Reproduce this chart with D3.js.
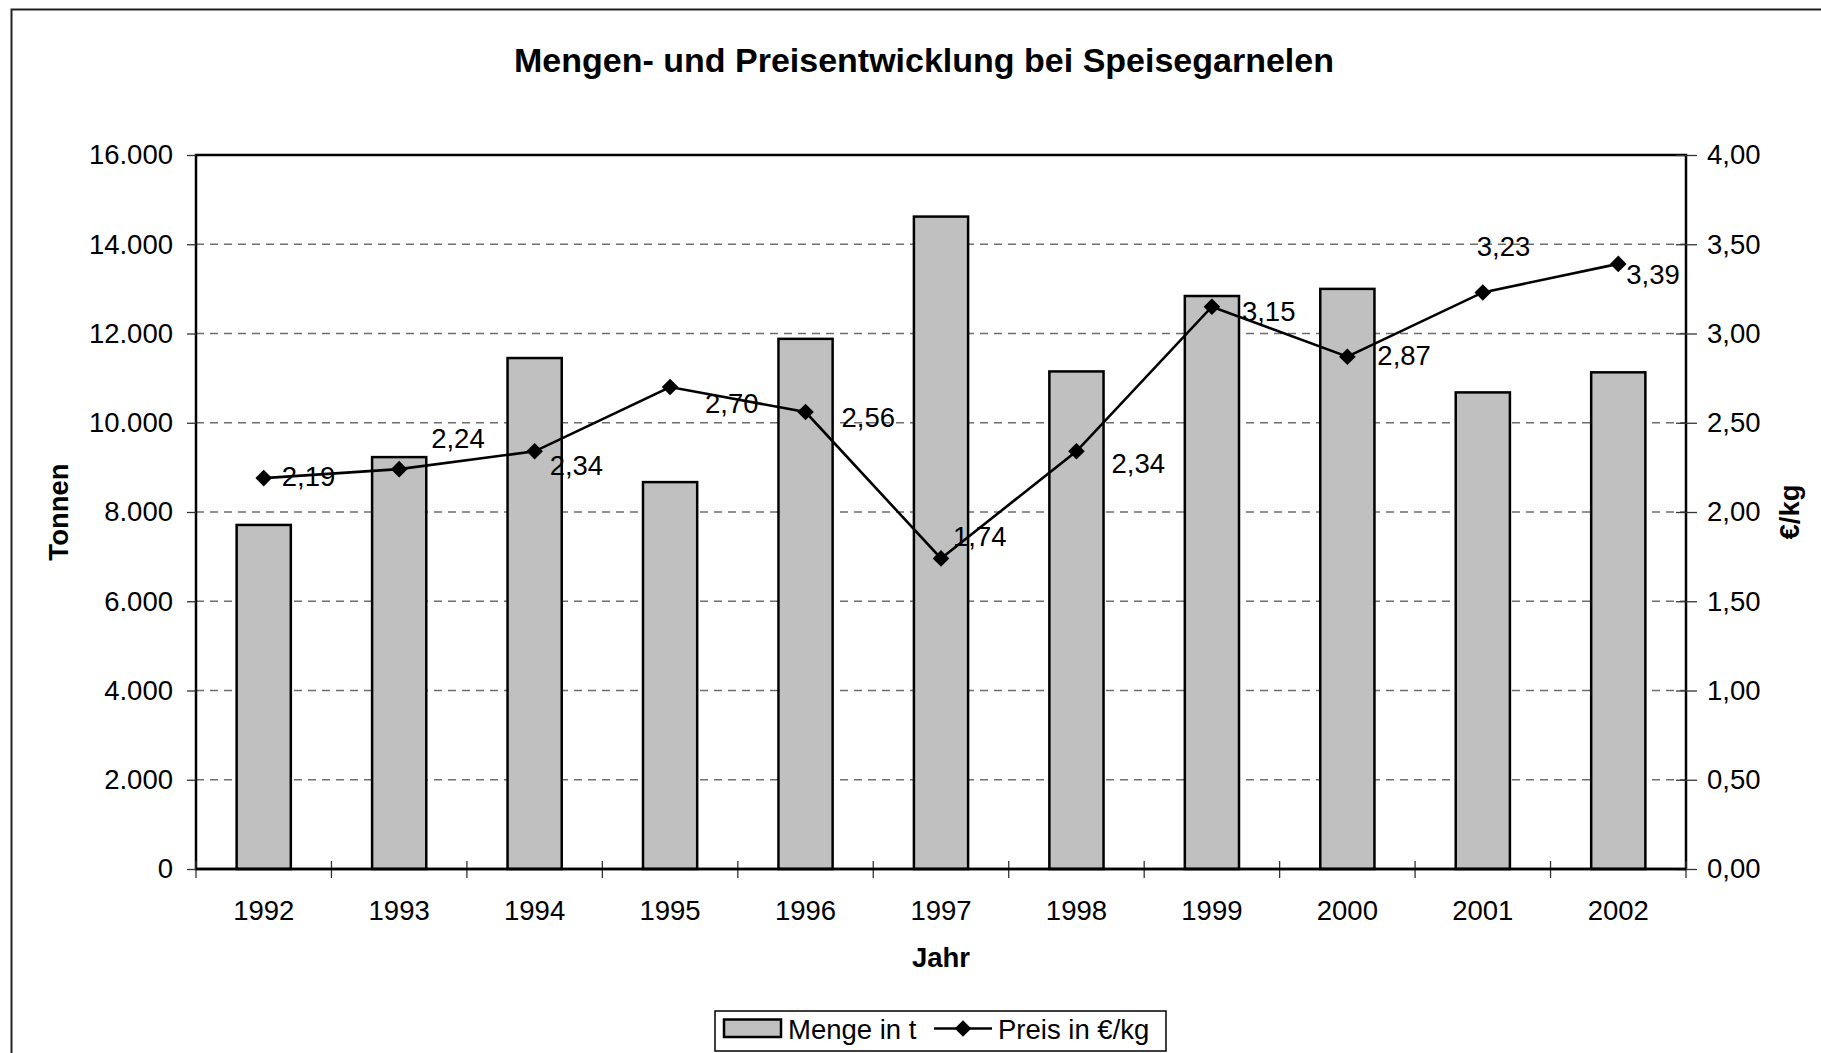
<!DOCTYPE html>
<html>
<head>
<meta charset="utf-8">
<script src="https://cdn.jsdelivr.net/npm/d3@7/dist/d3.min.js"></script>
<style>
  html, body { margin: 0; padding: 0; background: #fff; }
  svg { display: block; font-family: "Liberation Sans", Arial, sans-serif; }
</style>
</head>
<body>
<svg id="chart" width="1821" height="1053"></svg>
<script>
// ---- data ----
const years = ["1992","1993","1994","1995","1996","1997","1998","1999","2000","2001","2002"];
const menge = [7710, 9230, 11450, 8670, 11880, 14620, 11150, 12840, 13000, 10680, 11130];
const preis = [2.19, 2.24, 2.34, 2.70, 2.56, 1.74, 2.34, 3.15, 2.87, 3.23, 3.39];
const leftTicks = [0, 2000, 4000, 6000, 8000, 10000, 12000, 14000, 16000];
const rightTicks = [0, 0.5, 1.0, 1.5, 2.0, 2.5, 3.0, 3.5, 4.0];
const titleText = "Mengen- und Preisentwicklung bei Speisegarnelen";
const xTitle = "Jahr", yLeftTitle = "Tonnen", yRightTitle = "€/kg";
const seriesNames = ["Menge in t", "Preis in €/kg"];
// label placement offsets (styling, relative to each point)
const labelOffsets = [[18,8],[32,-21.5],[15,24],[35,26],[36,15],[12,-12],[35,22],[30,14],[30,8],[-6,-36],[8,20]];

const de = d3.formatLocale({decimal: ",", thousands: ".", grouping: [3], currency: ["", "€"]});
const fmtT = de.format(",.0f");
const fmtP = de.format(".2f");

const svg = d3.select("#chart");
const L = 196, R = 1686, T = 155, B = 869;
const FS = 27.5;

// outer frame (partially visible)
svg.append("path").attr("d", `M11.5,1053 L11.5,9.5 L1821,9.5`)
  .attr("fill", "none").attr("stroke", "#222").attr("stroke-width", 2);

const x = d3.scaleBand().domain(years).range([L, R]).paddingInner(0).paddingOuter(0);
const yL = d3.scaleLinear().domain([0, 16000]).range([B, T]);
const yR = d3.scaleLinear().domain([0, 4]).range([B, T]);

// gridlines
svg.append("g").selectAll("line").data(leftTicks.filter(d => d > 0 && d < 16000)).join("line")
  .attr("x1", L).attr("x2", R).attr("y1", d => yL(d)).attr("y2", d => yL(d))
  .attr("stroke", "#6e6e6e").attr("stroke-width", 1.3).attr("stroke-dasharray", "8,6");

// bars
const bw = x.bandwidth() * 0.4;
svg.append("g").selectAll("rect").data(menge).join("rect")
  .attr("x", (d, i) => x(years[i]) + x.bandwidth() / 2 - bw / 2)
  .attr("width", bw)
  .attr("y", d => yL(d))
  .attr("height", d => B - yL(d))
  .attr("fill", "#c0c0c0").attr("stroke", "#000").attr("stroke-width", 2.5);

// plot frame
svg.append("rect").attr("x", L).attr("y", T).attr("width", R - L).attr("height", B - T)
  .attr("fill", "none").attr("stroke", "#000").attr("stroke-width", 2.5);

// left axis
const axL = d3.axisLeft(yL).tickValues(leftTicks).tickSize(9).tickPadding(14).tickFormat(fmtT);
const gL = svg.append("g").attr("transform", `translate(${L},0)`).call(axL);
gL.select(".domain").remove();
gL.selectAll("line").attr("stroke", "#333").attr("stroke-width", 1.3);
gL.selectAll("text").attr("font-size", FS).attr("fill", "#000").attr("font-family", "Liberation Sans, Arial, sans-serif");

// right axis (ticks crossing)
const axR = d3.axisRight(yR).tickValues(rightTicks).tickSize(11).tickPadding(10).tickFormat(fmtP);
const gR = svg.append("g").attr("transform", `translate(${R},0)`).call(axR);
gR.select(".domain").remove();
gR.selectAll("line").attr("x1", -10).attr("stroke", "#333").attr("stroke-width", 1.3);
gR.selectAll("text").attr("font-size", FS).attr("fill", "#000").attr("font-family", "Liberation Sans, Arial, sans-serif");

// bottom axis: ticks at band boundaries, crossing
const boundaries = years.map(y => x(y)).concat([R]);
svg.append("g").selectAll("line").data(boundaries).join("line")
  .attr("x1", d => d).attr("x2", d => d).attr("y1", B - 8).attr("y2", B + 9)
  .attr("stroke", "#333").attr("stroke-width", 1.3);
svg.append("g").selectAll("text").data(years).join("text")
  .attr("x", d => x(d) + x.bandwidth() / 2).attr("y", 919.5)
  .attr("text-anchor", "middle").attr("font-size", FS).text(d => d);

// redraw bottom axis line on top
svg.append("line").attr("x1", L).attr("x2", R).attr("y1", B).attr("y2", B)
  .attr("stroke", "#000").attr("stroke-width", 2.5);

// price line
const cx = (d, i) => x(years[i]) + x.bandwidth() / 2;
const line = d3.line().x((d, i) => cx(d, i)).y(d => yR(d));
svg.append("path").datum(preis).attr("d", line)
  .attr("fill", "none").attr("stroke", "#000").attr("stroke-width", 2.6);
const diamond = "M0,-8.3L8.3,0L0,8.3L-8.3,0Z";
svg.append("g").selectAll("path").data(preis).join("path")
  .attr("d", diamond)
  .attr("transform", (d, i) => `translate(${cx(d, i)},${yR(d)})`)
  .attr("fill", "#000");

// data labels
svg.append("g").selectAll("text").data(preis).join("text")
  .attr("x", (d, i) => cx(d, i) + labelOffsets[i][0])
  .attr("y", (d, i) => yR(d) + labelOffsets[i][1])
  .attr("font-size", FS).attr("fill", "#000").text(d => fmtP(d));

// title
svg.append("text").attr("x", 924).attr("y", 72).attr("text-anchor", "middle")
  .attr("font-size", 34).attr("font-weight", "bold").text(titleText);

// axis titles
svg.append("text").attr("transform", `translate(68,${(T + B) / 2}) rotate(-90)`)
  .attr("text-anchor", "middle").attr("font-size", FS).attr("font-weight", "bold").text(yLeftTitle);
svg.append("text").attr("transform", `translate(1799,${(T + B) / 2}) rotate(-90)`)
  .attr("text-anchor", "middle").attr("font-size", FS).attr("font-weight", "bold").text(yRightTitle);
svg.append("text").attr("x", (L + R) / 2).attr("y", 967).attr("text-anchor", "middle")
  .attr("font-size", FS).attr("font-weight", "bold").text(xTitle);

// legend
const lg = svg.append("g");
lg.append("rect").attr("x", 715).attr("y", 1011).attr("width", 451).attr("height", 40)
  .attr("fill", "#fff").attr("stroke", "#000").attr("stroke-width", 1.5);
lg.append("rect").attr("x", 724).attr("y", 1019.5).attr("width", 57).attr("height", 17.5)
  .attr("fill", "#c0c0c0").attr("stroke", "#000").attr("stroke-width", 2.5);
lg.append("text").attr("x", 788).attr("y", 1039).attr("font-size", FS).text(seriesNames[0]);
lg.append("line").attr("x1", 934).attr("x2", 992).attr("y1", 1028.5).attr("y2", 1028.5)
  .attr("stroke", "#000").attr("stroke-width", 2.6);
lg.append("path").attr("d", diamond).attr("transform", "translate(963,1028.5)").attr("fill", "#000");
lg.append("text").attr("x", 998).attr("y", 1039).attr("font-size", FS).text(seriesNames[1]);
</script>
</body>
</html>
